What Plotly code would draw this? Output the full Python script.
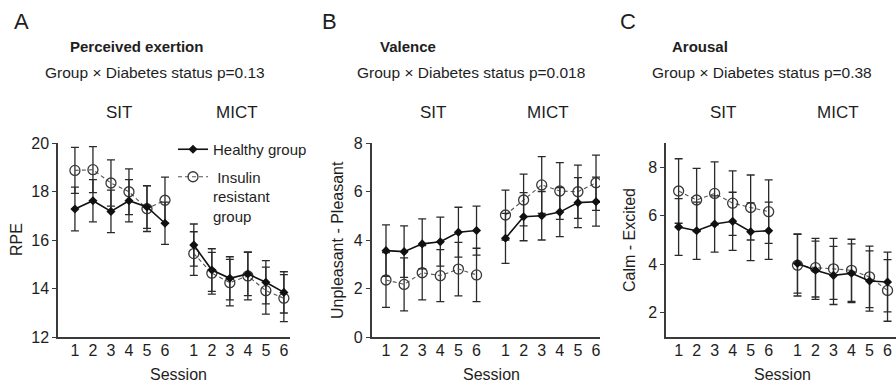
import plotly.graph_objects as go

W, H = 896, 383
FONT = "Liberation Sans"
TXT = "#1e1e1e"

sessions = ["1", "2", "3", "4", "5", "6"]
blocks = ["SIT", "MICT"]

# Panel A: RPE
rpe_healthy_sit = [17.28, 17.62, 17.18, 17.62, 17.36, 16.69]
rpe_healthy_mict = [15.79, 14.76, 14.42, 14.60, 14.26, 13.84]
rpe_ir_sit = [18.87, 18.90, 18.35, 17.99, 17.29, 17.64]
rpe_ir_mict = [15.44, 14.63, 14.24, 14.52, 13.91, 13.60]
rpe_healthy_sit_sd = [0.90, 0.87, 0.88, 0.87, 0.88, 0.87]
rpe_healthy_mict_sd = [0.87, 0.88, 0.89, 0.89, 0.89, 0.85]
rpe_ir_sit_sd = [0.95, 0.95, 0.95, 0.94, 0.94, 0.95]
rpe_ir_mict_sd = [0.90, 0.86, 0.96, 0.99, 0.97, 0.97]

# Panel B: Valence
val_healthy_sit = [3.56, 3.52, 3.84, 3.93, 4.32, 4.39]
val_healthy_mict = [4.07, 4.96, 5.00, 5.15, 5.54, 5.58]
val_ir_sit = [2.35, 2.17, 2.65, 2.53, 2.80, 2.56]
val_ir_mict = [5.03, 5.65, 6.27, 6.02, 5.99, 6.36]
val_healthy_sit_sd = [1.06, 1.06, 1.03, 1.01, 1.03, 1.01]
val_healthy_mict_sd = [1.03, 0.99, 1.00, 1.01, 1.03, 1.01]
val_ir_sit_sd = [1.13, 1.09, 1.12, 1.07, 1.10, 1.10]
val_ir_mict_sd = [1.03, 1.07, 1.17, 1.17, 1.10, 1.14]

# Panel C: Arousal
aro_healthy_sit = [5.54, 5.38, 5.66, 5.77, 5.34, 5.38]
aro_healthy_mict = [4.03, 3.75, 3.54, 3.63, 3.31, 3.27]
aro_ir_sit = [7.02, 6.65, 6.92, 6.52, 6.34, 6.17]
aro_ir_mict = [3.96, 3.86, 3.81, 3.75, 3.48, 2.92]
aro_healthy_sit_sd = [1.17, 1.18, 1.16, 1.20, 1.19, 1.18]
aro_healthy_mict_sd = [1.22, 1.20, 1.20, 1.21, 1.24, 1.23]
aro_ir_sit_sd = [1.33, 1.30, 1.30, 1.33, 1.34, 1.31]
aro_ir_mict_sd = [1.27, 1.21, 1.26, 1.28, 1.27, 1.27]

panel_letters = ["A", "B", "C"]
panel_titles = ["Perceived exertion", "Valence", "Arousal"]
p_values = ["0.13", "0.018", "0.38"]
y_titles = ["RPE", "Unpleasant - Pleasant", "Calm - Excited"]
y_ticks = [[12, 14, 16, 18, 20], [0, 2, 4, 6, 8], [2, 4, 6, 8]]
y_ranges = [[12, 20], [0, 8], [1, 9]]
x_ranges = [[0.06, 12.94], [0.21, 12.82], [0.30, 13.07]]
x_domains = [[58 / W, 290 / W], [371.7 / W, 600 / W], [666 / W, 1.0]]
y_domain = [46 / H, 240 / H]

healthy = [
    (rpe_healthy_sit, rpe_healthy_mict, rpe_healthy_sit_sd, rpe_healthy_mict_sd),
    (val_healthy_sit, val_healthy_mict, val_healthy_sit_sd, val_healthy_mict_sd),
    (aro_healthy_sit, aro_healthy_mict, aro_healthy_sit_sd, aro_healthy_mict_sd),
]
insulin = [
    (rpe_ir_sit, rpe_ir_mict, rpe_ir_sit_sd, rpe_ir_mict_sd),
    (val_ir_sit, val_ir_mict, val_ir_sit_sd, val_ir_mict_sd),
    (aro_ir_sit, aro_ir_mict, aro_ir_sit_sd, aro_ir_mict_sd),
]

# session slot positions: SIT sessions 1-6, MICT block after a gap
GAP = 1.6
x_sit = [i + 1 for i in range(len(sessions))]
x_mict = [x_sit[-1] + GAP + i for i in range(len(sessions))]
x_all = x_sit + [None] + x_mict


def join(a, b):
    return list(a) + [None] + list(b)


fig = go.Figure()

for k in range(3):
    xa = "x" if k == 0 else f"x{k + 1}"
    ya = "y" if k == 0 else f"y{k + 1}"
    hs, hm, hsd, hmsd = healthy[k]
    is_, im, isd, imsd = insulin[k]
    fig.add_trace(go.Scatter(
        x=x_all, y=join(is_, im), xaxis=xa, yaxis=ya,
        mode="lines+markers", name="&nbsp;Insulin<br>resistant<br>group",
        legendgroup="ir", legendrank=2, showlegend=(k == 0),
        line=dict(color="#555555", width=1.1, dash="4px,3px"),
        marker=dict(symbol="circle-open", size=10, color="#3a3a3a", line=dict(width=1.3)),
        error_y=dict(type="data", array=join(isd, imsd), color="#2a2a2a", thickness=1.3, width=4),
        connectgaps=False,
    ))
    fig.add_trace(go.Scatter(
        x=x_all, y=join(hs, hm), xaxis=xa, yaxis=ya,
        mode="lines+markers", name="Healthy group",
        legendgroup="h", legendrank=1, showlegend=(k == 0),
        line=dict(color="#111111", width=1.6),
        marker=dict(symbol="diamond", size=7, color="#111111"),
        error_y=dict(type="data", array=join(hsd, hmsd), color="#2a2a2a", thickness=1.3, width=4),
        connectgaps=False,
    ))

layout_axes = {}
for k in range(3):
    xk = "xaxis" if k == 0 else f"xaxis{k + 1}"
    yk = "yaxis" if k == 0 else f"yaxis{k + 1}"
    anchor_y = "y" if k == 0 else f"y{k + 1}"
    anchor_x = "x" if k == 0 else f"x{k + 1}"
    layout_axes[xk] = dict(
        domain=x_domains[k], range=x_ranges[k], anchor=anchor_y,
        tickvals=x_all[:6] + x_all[7:], ticktext=sessions + sessions,
        showline=True, linecolor="#3a3a3a", linewidth=1.5, ticks="",
        ticklabelstandoff=-2,
        showgrid=False, zeroline=False, fixedrange=True, automargin=False,
        tickfont=dict(family=FONT, size=16, color=TXT),
    )
    layout_axes[yk] = dict(
        domain=y_domain, range=y_ranges[k], anchor=anchor_x,
        tickvals=y_ticks[k], showline=True, linecolor="#3a3a3a", linewidth=1.5,
        ticks="outside", ticklen=4, tickwidth=1.3, tickcolor="#3a3a3a",
        showgrid=False, zeroline=False, fixedrange=True, automargin=False,
        tickfont=dict(family=FONT, size=16, color=TXT),
    )


def P(px, py):
    return px / W, 1 - py / H


annotations = []
letter_x = [12, 320, 618]
title_x = [68, 378, 670]
group_x = [43, 355, 650]
sit_x = [119, 432.5, 723]
mict_x = [237, 548, 838]
ytitle_x = [16, 337, 629]
session_x = [178, 491, 782]

for k in range(3):
    x, y = P(letter_x[k], 21)
    annotations.append(dict(x=x, y=y, xref="paper", yref="paper", xanchor="left", yanchor="middle",
                            text=panel_letters[k], showarrow=False,
                            font=dict(family=FONT, size=22, color=TXT)))
    x, y = P(title_x[k], 46)
    annotations.append(dict(x=x, y=y, xref="paper", yref="paper", xanchor="left", yanchor="middle",
                            text=f"<b>{panel_titles[k]}</b>", showarrow=False,
                            font=dict(family=FONT, size=15, color=TXT)))
    x, y = P(group_x[k], 72.5)
    annotations.append(dict(x=x, y=y, xref="paper", yref="paper", xanchor="left", yanchor="middle",
                            text=f"Group × Diabetes status p={p_values[k]}", showarrow=False,
                            font=dict(family=FONT, size=15.5, color=TXT)))
    for bx, label in zip([sit_x[k], mict_x[k]], blocks):
        x, y = P(bx, 112.5)
        annotations.append(dict(x=x, y=y, xref="paper", yref="paper", xanchor="center", yanchor="middle",
                                text=label, showarrow=False,
                                font=dict(family=FONT, size=17, color=TXT)))
    x, y = P(ytitle_x[k], 240)
    annotations.append(dict(x=x, y=y, xref="paper", yref="paper", xanchor="center", yanchor="middle",
                            text=y_titles[k], textangle=-90, showarrow=False,
                            font=dict(family=FONT, size=16, color=TXT)))
    x, y = P(session_x[k], 374)
    annotations.append(dict(x=x, y=y, xref="paper", yref="paper", xanchor="center", yanchor="middle",
                            text="Session", showarrow=False,
                            font=dict(family=FONT, size=16, color=TXT)))

lx, ly = P(173, 133)
fig.update_layout(
    width=W, height=H,
    margin=dict(l=0, r=0, t=0, b=0, autoexpand=False),
    paper_bgcolor="white", plot_bgcolor="white",
    font=dict(family=FONT, color=TXT),
    showlegend=True,
    legend=dict(x=lx, y=ly, xanchor="left", yanchor="top", bgcolor="rgba(0,0,0,0)",
                font=dict(family=FONT, size=15, color=TXT), tracegroupgap=5, valign="top",
                traceorder="grouped"),
    annotations=annotations,
    **layout_axes,
)

fig.write_html("out.html")
